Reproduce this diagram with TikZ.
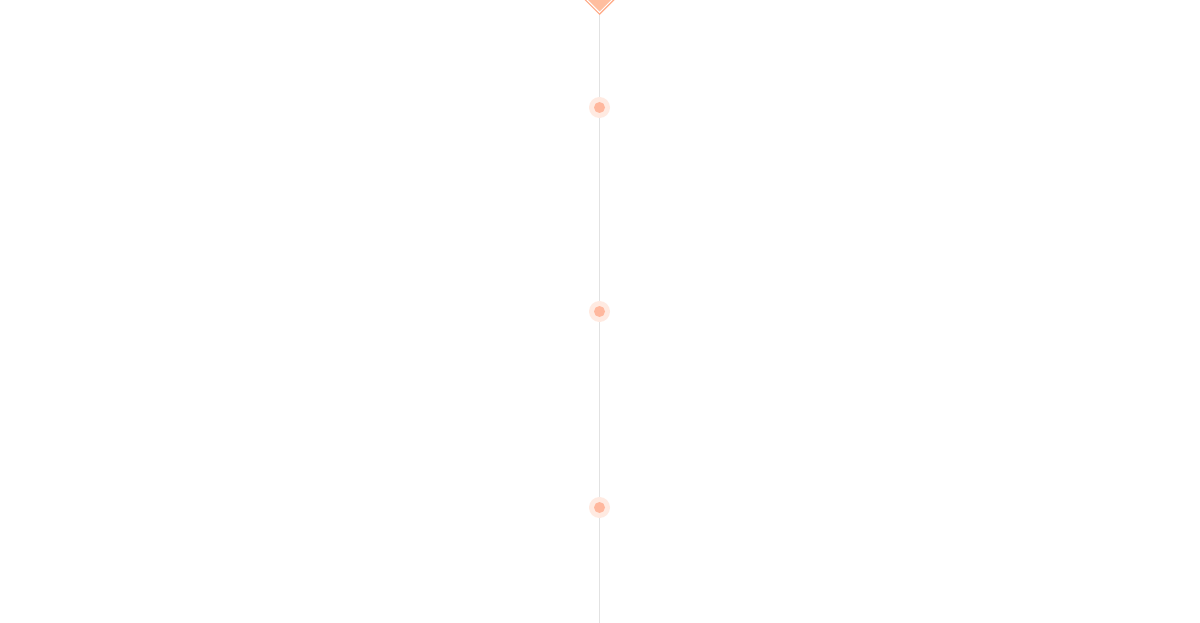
\documentclass[tikz,border=0pt]{standalone}
\usetikzlibrary{shapes.geometric}
\definecolor{lineg}{HTML}{E2E2E2}
\definecolor{dotc}{HTML}{FFB89E}
\definecolor{haloc}{HTML}{FFEAE1}
\definecolor{diaf}{HTML}{FFBE9F}
\definecolor{diao}{HTML}{FFAB88}
\tikzset{
  halo/.style={circle,fill=haloc,minimum size=21pt,inner sep=0pt},
  dot/.style={circle,fill=dotc,minimum size=11pt,inner sep=0pt},
}
\begin{document}
\begin{tikzpicture}[x=1pt,y=-1pt]
\useasboundingbox (0,0) rectangle (1200,623);
\fill[white] (0,0) rectangle (1200,623);
\coordinate (bottom) at (599.5,623);
\coordinate (tip) at (599.5,15);
\draw[lineg,line width=1pt] (tip) -- (bottom);
\foreach \n/\y in {a/107.5,b/311.5,c/507.5}{
  \node[halo] (h\n) at (599.5,\y) {};
  \node[dot] (d\n) at (599.5,\y) {};
}
\fill[diao] (583.5,-1) -- (599.5,15) -- (615.5,-1) -- cycle;
\fill[white] (585.3,-1) -- (599.5,13.2) -- (613.7,-1) -- cycle;
\fill[diaf] (587,-1) -- (599.5,11.5) -- (612,-1) -- cycle;
\end{tikzpicture}
\end{document}
